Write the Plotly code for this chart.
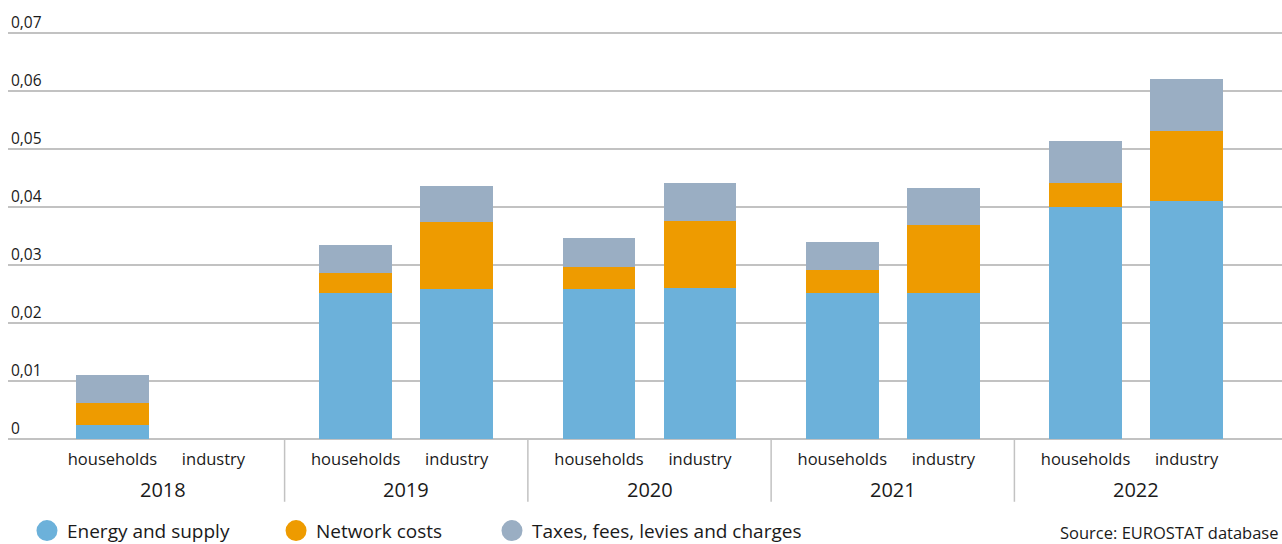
import plotly.graph_objects as go

years = ["2018", "2019", "2020", "2021", "2022"]
sectors = ["households", "industry"]

# stacked component values, order: (2018 hh, 2018 ind, 2019 hh, 2019 ind, ...)
energy_supply = [0.0024, None, 0.0251, 0.0259, 0.0259, 0.0261, 0.0252, 0.0251, 0.0400, 0.0410]
network_costs = [0.0038, None, 0.0036, 0.0116, 0.0038, 0.0115, 0.0040, 0.0118, 0.0041, 0.0122]
taxes_fees = [0.0049, None, 0.0048, 0.0062, 0.0050, 0.0066, 0.0048, 0.0064, 0.0073, 0.0089]

series_names = ["Energy and supply", "Network costs", "Taxes, fees, levies and charges"]
series_values = [energy_supply, network_costs, taxes_fees]
colors = ["#6cb1da", "#ee9b00", "#9aaec3"]

y_tickvals = [0, 0.01, 0.02, 0.03, 0.04, 0.05, 0.06, 0.07]
y_ticktext = ["0", "0,01", "0,02", "0,03", "0,04", "0,05", "0,06", "0,07"]

source_text = "Source: EUROSTAT database"

FONT = "Open Sans"
TEXT = "#1a1a1a"
GRID = "#c2c2c2"

# positions: group index + offset for households / industry
OFF = 0.2076
xpos = []
xlabels = []
for k, yr in enumerate(years):
    for j, s in enumerate(sectors):
        xpos.append(k + (j - 0.5) * 2 * OFF)
        xlabels.append(s)

legend_ids = ["legend", "legend2", "legend3"]
legend_x = [0.0149, 0.2104, 0.3799]

# plot area: 5800 px per unit; y=0 at 439.3 px, top of plot at 10 px
Y_TOP = 0.074
Y_BOT = -0.000345
plot_top_px = 10.0
plot_h = (Y_TOP - Y_BOT) * 5800.0
plot_bottom_px = plot_top_px + plot_h


def py(px):
    """pixel row -> paper y"""
    return (plot_bottom_px - px) / plot_h


fig = go.Figure()
for name, vals, col, lid in zip(series_names, series_values, colors, legend_ids):
    fig.add_trace(go.Bar(x=xpos, y=vals, name=name, marker=dict(color=col, line=dict(width=0)),
                         width=0.30, showlegend=False, hoverinfo="y"))
    # legend entry with a round symbol
    fig.add_trace(go.Scatter(x=[None], y=[None], mode="markers", name=name, legend=lid,
                             marker=dict(symbol="circle", size=16, color=col,
                                         line=dict(color=col, width=5)),
                             showlegend=True))

shapes = []
for k in range(len(years) - 1):
    shapes.append(dict(type="line", xref="x", yref="paper", x0=k + 0.5, x1=k + 0.5,
                       y0=py(439.3), y1=py(502), line=dict(color=GRID, width=1.5)))

annotations = []
for k, yr in enumerate(years):
    annotations.append(dict(text=yr, x=k, xref="x", y=py(490), yref="paper", yanchor="middle",
                            showarrow=False, font=dict(size=20, color=TEXT, family=FONT)))
annotations.append(dict(text=source_text, x=1, xref="paper", xanchor="right", xshift=-1,
                        y=py(533), yref="paper", yanchor="middle", showarrow=False,
                        font=dict(size=16.5, color=TEXT, family=FONT)))

legend_common = dict(orientation="h", xanchor="left", y=py(531), yanchor="middle",
                     font=dict(size=19, color=TEXT, family=FONT), itemsizing="trace",
                     bgcolor="rgba(0,0,0,0)")

fig.update_layout(
    width=1282, height=544,
    margin=dict(l=8, r=0, t=plot_top_px, b=544 - plot_bottom_px, autoexpand=False),
    barmode="stack",
    plot_bgcolor="white", paper_bgcolor="white",
    font=dict(family=FONT, color=TEXT, size=16),
    shapes=shapes, annotations=annotations,
    legend=dict(x=legend_x[0], **legend_common),
    legend2=dict(x=legend_x[1], **legend_common),
    legend3=dict(x=legend_x[2], **legend_common),
    xaxis=dict(range=[-0.637, 4.600], tickvals=xpos, ticktext=xlabels, showgrid=False,
               zeroline=False, showline=False, ticks="", ticklabelstandoff=6,
               tickfont=dict(size=16.5, color=TEXT, family=FONT), fixedrange=True),
    yaxis=dict(range=[Y_BOT, Y_TOP], tickvals=y_tickvals, ticktext=y_ticktext,
               showgrid=True, gridcolor=GRID, gridwidth=1.5, zeroline=False, showline=False,
               ticklabelposition="inside top", tickfont=dict(size=15.5, color=TEXT, family=FONT),
               fixedrange=True),
    bargap=0,
)

fig.write_html("out.html", config={"displayModeBar": False},
               post_script="document.body.style.margin='0';document.body.style.overflow='hidden';")
